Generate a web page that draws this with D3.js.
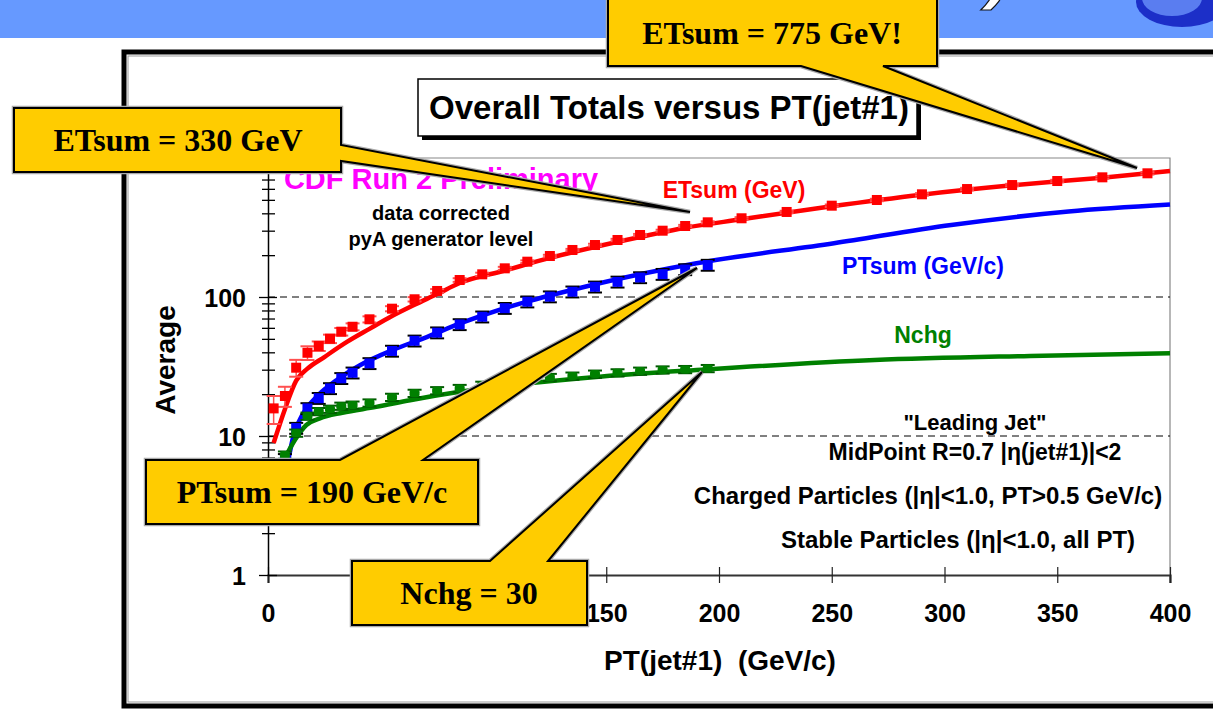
<!DOCTYPE html>
<html>
<head>
<meta charset="utf-8">
<script src="https://cdn.jsdelivr.net/npm/d3@7"></script>
<style>
  body { margin: 0; background: #fff; }
  svg { display: block; }
</style>
</head>
<body>
<svg id="chart" width="1213" height="709"></svg>
<script>
// ---- data ----
const xTicks = [0, 50, 100, 150, 200, 250, 300, 350, 400];
const yMajor = [1, 10, 100, 1000];
const yLabels = { 1: "1", 10: "10", 100: "100" };

// ETsum (GeV) data points
const etX = [2.5, 7.5, 12.5, 17.5, 22.5, 27.5, 32.5, 37.5, 45, 55, 65, 75, 85, 95, 105, 115, 125, 135, 145, 155, 165, 175, 185, 195, 210, 230, 250, 270, 290, 310, 330, 350, 370, 390];
const etY = [15.8, 19.4, 31, 39.7, 44.4, 50.1, 56.3, 61.1, 69.1, 82.4, 96.3, 110.5, 132.5, 145.6, 160.8, 179.5, 197.2, 217.9, 236.6, 257.1, 279.3, 299.9, 324.2, 344.6, 368.4, 409, 453.9, 498.8, 548, 598, 639, 683, 726, 776];
const etErr = [3.6, 3.2, 4.3, 4.5, 3.5, 3.5, 3.5, 3.5, 3.5, 3.5, 3.5, 3.5, 4, 4, 4, 4, 4, 4, 5, 5, 5, 5, 6, 6, 7, 8, 9, 10, 11, 12, 13, 14, 15, 16];
// PTsum (GeV/c) data points
const ptX = [7.5, 12.5, 17.5, 22.5, 27.5, 32.5, 37.5, 45, 55, 65, 75, 85, 95, 105, 115, 125, 135, 145, 155, 165, 175, 185, 195];
const ptY = [6.8, 11.4, 15.8, 18.7, 22.0, 26.0, 28.5, 33.3, 40.9, 48.4, 55.4, 63.5, 72.1, 83.1, 92.5, 100.6, 109.1, 118.4, 128.5, 138.2, 146, 157.8, 169.8];
// Nchg data points
const nX = [7.5, 12.5, 17.5, 22.5, 27.5, 32.5, 37.5, 45, 55, 65, 75, 85, 95, 105, 115, 125, 135, 145, 155, 165, 175, 185, 195];
const nY = [7.3, 10.5, 13.9, 15.0, 15.6, 16.4, 16.7, 17.3, 19.0, 20.3, 21.2, 22.0, 23.2, 24.6, 25.5, 26.4, 27.0, 27.9, 28.5, 29.3, 29.9, 30.1, 30.6];

// generator level curves
const etCurveX = [2.5, 7.5, 12.5, 17.5, 25, 35, 45, 55, 65, 75, 85, 105, 125, 145, 165, 185, 210, 250, 290, 330, 370, 400];
const etCurveY = [8.9, 15.6, 25, 30.5, 37, 47.5, 59, 73, 88, 105, 126, 155, 191, 229, 270, 315, 362, 450, 545, 636, 722, 806];
const ptCurveX = [9, 11.2, 15.7, 21.6, 30.5, 40.8, 55.6, 70.4, 85.2, 147, 190, 251, 303, 355, 400];
const ptCurveY = [6.7, 9.9, 14.6, 19.2, 25.3, 32.3, 41.7, 51.5, 64.5, 125.5, 175, 243.6, 330, 412, 462];
const nCurveX = [7, 12, 17, 23, 33, 48, 63, 85, 147, 194, 269, 338, 400];
const nCurveY = [6.7, 9.4, 12.0, 13.4, 14.7, 16.2, 18.1, 20.8, 26.7, 30.1, 35.2, 37.7, 39.4];

const callouts = ["ETsum = 330 GeV", "ETsum = 775 GeV!", "PTsum = 190 GeV/c", "Nchg = 30"];

const SANS = "'Liberation Sans', Arial, sans-serif";
const SERIF = "'Liberation Serif', 'Times New Roman', serif";

const svg = d3.select("#chart");

// slide banner (its title is cut off at the top of the picture)
svg.append("rect").attr("x", 0).attr("y", 0).attr("width", 1213).attr("height", 38).attr("fill", "#6699ff");
svg.append("text")
  .attr("x", 1012).attr("y", -5)
  .attr("text-anchor", "end")
  .style("font", `italic bold 74px ${SANS}`)
  .attr("fill", "#fff").attr("stroke", "#111").attr("stroke-width", 1.2)
  .text("Overall Totals (CDF)");
svg.append("ellipse").attr("cx", 1182).attr("cy", 2).attr("rx", 46).attr("ry", 25).attr("fill", "#1c2fc8");
svg.append("ellipse").attr("cx", 1172).attr("cy", -2).attr("rx", 30).attr("ry", 18).attr("fill", "#5a7df0");

// outer frame of the embedded chart
svg.append("rect").attr("x", 124).attr("y", 52).attr("width", 1200).attr("height", 654)
  .attr("fill", "none").attr("stroke", "#000").attr("stroke-width", 5);
svg.append("rect").attr("x", 128).attr("y", 56).attr("width", 1200).attr("height", 646)
  .attr("fill", "none").attr("stroke", "#999").attr("stroke-width", 1);

// scales
const x = d3.scaleLinear().domain([0, 400]).range([268, 1170]);
const y = d3.scaleLog().domain([1, 1000]).range([575, 158]);

// plot frame (top / right)
svg.append("path")
  .attr("d", `M${x(0)},${y(1000)}H${x(400)}V${y(1) + 8}`)
  .attr("fill", "none").attr("stroke", "#888").attr("stroke-width", 1.2);

// dashed gridlines
svg.selectAll(".grid").data([10, 100]).join("line")
  .attr("x1", x(0)).attr("x2", x(400))
  .attr("y1", d => y(d)).attr("y2", d => y(d))
  .attr("stroke", "#000").attr("stroke-width", 1).attr("stroke-dasharray", "7,5");

// x axis
const gx = svg.append("g").attr("transform", `translate(0,${y(1)})`)
  .call(d3.axisBottom(x).tickValues(xTicks).tickSize(8));
gx.select(".domain").attr("stroke", "#333").attr("stroke-width", 2.2);
gx.selectAll(".tick line").attr("y1", -8).attr("y2", 8).attr("stroke", "#222").attr("stroke-width", 1.2);
gx.selectAll(".tick text").style("font", `bold 25px ${SANS}`).attr("fill", "#000").attr("dy", "0.71em").attr("y", 29);

// y axis with log minor ticks
const yTicksAll = [];
yMajor.forEach(m => { if (m < 1000) for (let k = 1; k <= 9; k++) yTicksAll.push(m * k); });
yTicksAll.push(1000);
const gy = svg.append("g").attr("transform", `translate(${x(0)},0)`)
  .call(d3.axisLeft(y).tickValues(yTicksAll).tickSize(0).tickPadding(22)
    .tickFormat(d => yLabels[d] || ""));
gy.select(".domain").attr("stroke", "#000").attr("stroke-width", 1.5);
gy.selectAll(".tick line")
  .attr("x1", d => yMajor.includes(d) ? -9 : -6)
  .attr("x2", d => yMajor.includes(d) ? 9 : 7)
  .attr("stroke", "#000").attr("stroke-width", 1.3);
gy.selectAll(".tick text").style("font", `bold 25px ${SANS}`).attr("fill", "#000").attr("dy", "0.36em");

// axis titles
svg.append("text").attr("x", 720).attr("y", 670).attr("text-anchor", "middle")
  .style("font", `bold 28px ${SANS}`).style("white-space", "pre").text("PT(jet#1)  (GeV/c)");
svg.append("text").attr("transform", "translate(175,360) rotate(-90)").attr("text-anchor", "middle")
  .style("font", `bold 28px ${SANS}`).text("Average");

// curves
const line = d3.line().x(d => x(d[0])).y(d => y(d[1])).curve(d3.curveMonotoneX);
const series = [
  { cx: etCurveX, cy: etCurveY, px: etX, py: etY, err: etErr, color: "#ff0000", errColor: "#ff5050", shape: "sq" },
  { cx: ptCurveX, cy: ptCurveY, px: ptX, py: ptY, err: ptY.map(v => v * 0.09), color: "#0000ff", errColor: "#000", shape: "sq" },
  { cx: nCurveX, cy: nCurveY, px: nX, py: nY, err: nY.map(v => v * 0.06), color: "#008000", errColor: "#005a00", shape: "rd" }
];

series.forEach(s => {
  svg.append("path")
    .datum(s.cx.map((v, i) => [v, s.cy[i]]))
    .attr("d", line)
    .attr("fill", "none").attr("stroke", s.color).attr("stroke-width", 4.5)
    .attr("stroke-linejoin", "round");
});

series.forEach(s => {
  const pts = s.px.map((v, i) => ({ x: v, y: s.py[i], e: s.err[i] }));
  const g = svg.append("g");
  const eb = g.selectAll(".eb").data(pts).join("g");
  eb.append("line")
    .attr("x1", d => x(d.x)).attr("x2", d => x(d.x))
    .attr("y1", d => y(d.y + d.e)).attr("y2", d => y(Math.max(d.y - d.e, 1.01)))
    .attr("stroke", s.errColor).attr("stroke-width", 1.5);
  [1, -1].forEach(sgn => {
    eb.append("line")
      .attr("x1", d => x(d.x) - 7).attr("x2", d => x(d.x) + 7)
      .attr("y1", d => y(d.y + sgn * d.e)).attr("y2", d => y(d.y + sgn * d.e))
      .attr("stroke", s.errColor).attr("stroke-width", 2);
  });
  g.selectAll(".pt").data(pts).join("rect")
    .attr("x", d => x(d.x) - 5).attr("y", d => y(d.y) - (s.shape === "rd" ? 4 : 5))
    .attr("width", 10).attr("height", s.shape === "rd" ? 8 : 10)
    .attr("rx", s.shape === "rd" ? 3 : 0)
    .attr("fill", s.color);
});

// in-plot labels
function label(txt, cx, by, size, color) {
  return svg.append("text").attr("x", cx).attr("y", by).attr("text-anchor", "middle")
    .style("font", `bold ${size}px ${SANS}`).attr("fill", color).text(txt);
}
label("CDF Run 2 Preliminary", 441, 189, 29, "#ff00ff");
label("data corrected", 441, 220, 20, "#000");
label("pyA generator level", 441, 246, 20, "#000");
label("ETsum (GeV)", 734, 198, 23, "#ff0000");
label("PTsum (GeV/c)", 923, 274, 23, "#0000ff");
label("Nchg", 923, 343, 23, "#008000");
label("\"Leading Jet\"", 975, 430, 22, "#000");
label("MidPoint R=0.7 |\u03b7(jet#1)|<2", 975, 460, 23, "#000");
label("Charged Particles (|\u03b7|<1.0, PT>0.5 GeV/c)", 928, 504, 24, "#000");
label("Stable Particles (|\u03b7|<1.0, all PT)", 958, 548, 24, "#000");

// title box
svg.append("rect").attr("x", 422).attr("y", 83).attr("width", 499).attr("height", 57).attr("fill", "#000");
svg.append("rect").attr("x", 418).attr("y", 79).attr("width", 499).attr("height", 57)
  .attr("fill", "#fff").attr("stroke", "#000").attr("stroke-width", 1.5);
svg.append("text").attr("x", 669).attr("y", 119).attr("text-anchor", "middle")
  .style("font", `bold 33px ${SANS}`).text("Overall Totals versus PT(jet#1)");

// callouts
const shapes = [
  { d: "M14,108 L341,108 L341,145 L690,212 L341,161 L341,172 L14,172 Z", tx: 178, ty: 151 },
  { d: "M608,-2 L937,-2 L937,66 L883,66 L1137,168 L801,66 L608,66 Z", tx: 772, ty: 44 },
  { d: "M146,460 L340,460 L697,268 L423,460 L478,460 L478,524 L146,524 Z", tx: 312, ty: 503 },
  { d: "M352,561 L490,561 L702,372 L548,561 L587,561 L587,625 L352,625 Z", tx: 469, ty: 604 }
];
shapes.forEach((c, i) => {
  svg.append("path").attr("d", c.d).attr("fill", "none").attr("stroke", "#aaa").attr("stroke-width", 4.5).attr("stroke-linejoin", "miter");
  svg.append("path").attr("d", c.d).attr("fill", "#ffcc00").attr("stroke", "#000").attr("stroke-width", 2).attr("stroke-linejoin", "miter");
  svg.append("text").attr("x", c.tx).attr("y", c.ty).attr("text-anchor", "middle")
    .style("font", `bold 32px ${SERIF}`).attr("fill", "#000").text(callouts[i]);
});
</script>
</body>
</html>
